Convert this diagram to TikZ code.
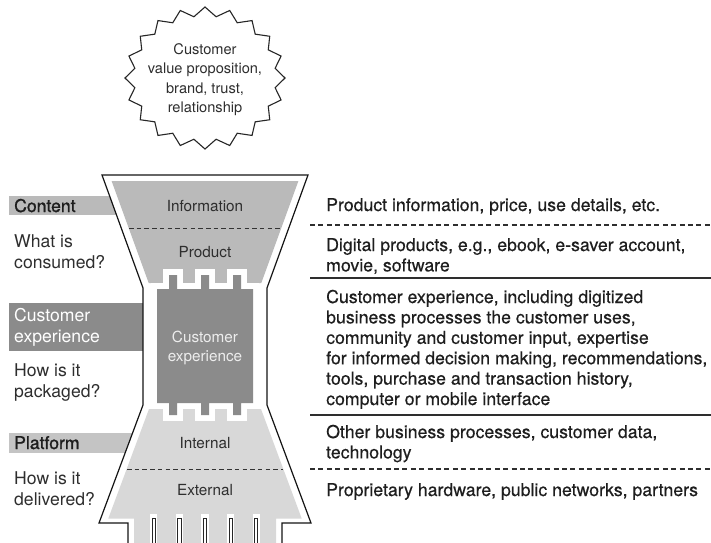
\documentclass[tikz,border=0pt]{standalone}
\usepackage{fontspec}
\setmainfont{TeX Gyre Heros}
\newfontfamily\medfont{TeX Gyre Heros}[FakeBold=0.45]
\newfontfamily\headfont{TeX Gyre Heros}[FakeBold=1.1]
\definecolor{topgray}{HTML}{BABABA}
\definecolor{darkgray}{HTML}{8B8B8B}
\definecolor{lowgray}{HTML}{D8D8D8}
\definecolor{platgray}{HTML}{C4C4C4}
\definecolor{ink}{HTML}{1E1E1E}
\definecolor{softink}{HTML}{2E2E2E}
% multi-line nodes sit on the baseline of their last line
\tikzset{
  rtext/.style={anchor=base west, inner sep=0pt, align=left, text=ink,
    font=\medfont\fontsize{17.7}{20.4}\selectfont},
  ltext/.style={anchor=base west, inner sep=0pt, align=left, text=softink,
    font=\fontsize{17.6}{21}\selectfont},
  htext/.style={ltext, text=ink, font=\headfont\fontsize{17.6}{21}\selectfont},
  itext/.style={anchor=base, inner sep=0pt, align=center, text=softink,
    font=\fontsize{15.3}{19.2}\selectfont},
  btext/.style={anchor=base, inner sep=0pt, align=center, text=softink,
    font=\fontsize{14.6}{19.5}\selectfont},
  frame/.style={draw=black!92, line width=1.2pt, line join=miter},
  sepline/.style={draw=black!82, line width=1.1pt},
  sepdash/.style={sepline, dash pattern=on 5pt off 3.4pt},
  innerdash/.style={draw=black!80, line width=0.9pt, dash pattern=on 4.5pt off 3.2pt},
  pin/.style={draw=black!85, line width=0.9pt, fill=white},
}
\begin{document}
\begin{tikzpicture}[x=1pt,y=-1pt]
\useasboundingbox (0,0) rectangle (711,542);

% ---- starburst with the value proposition ----
\begin{scope}[shift={(205,78)}]
  \draw[draw=black!85, line width=1.1pt, fill=white, line join=miter]
    (0:80pt and 71pt)
    \foreach \i in {1,...,39} {
      -- (\i*9: {ifthenelse(isodd(\i),71,80)*1pt} and {ifthenelse(isodd(\i),62,71)*1pt})
    } -- cycle;
\end{scope}
\node[btext] (burst) at (205,112.5) {Customer\\value proposition,\\brand, trust,\\relationship};

% ---- label bars on the left (cut off by the funnel) ----
\fill[topgray]  (9,196) rectangle (160,215);
\fill[darkgray] (9,303) rectangle (160,351);
\fill[platgray] (9,433) rectangle (160,453);

% ---- funnel body ----
\def\funnelpath{(128,546) -- (128,523) -- (99,523) -- (143,405) -- (143,288)
  -- (102,175) -- (308,175) -- (267,288) -- (267,405) -- (311,523)
  -- (282,523) -- (282,546)}
\fill[white] \funnelpath -- cycle;

% upper (content) layer
\fill[topgray] (111.6,181) -- (298.4,181) -- (261.3,283) -- (148.7,283) -- cycle;
% lower (platform) layer
\fill[lowgray] (149,409) -- (261,409) -- (301.7,518.5) -- (276,518.5)
  -- (276,546) -- (134,546) -- (134,518.5) -- (108.3,518.5) -- cycle;

% dividing lines inside the layers
\coordinate (ua) at (129,228); \coordinate (ub) at (281,228);
\coordinate (la) at (127,469); \coordinate (lb) at (283,469);
\draw[innerdash] (ua) -- (ub);
\draw[innerdash] (la) -- (lb);

% customer experience block with its teeth
\def\blockpath{(157,289) -- (169,289) -- (169,275) -- (177,275) -- (177,289)
  -- (201,289) -- (201,275) -- (209,275) -- (209,289) -- (233,289)
  -- (233,275) -- (241,275) -- (241,289) -- (253,289) -- (253,403)
  -- (241,403) -- (241,415) -- (233,415) -- (233,403) -- (209,403)
  -- (209,415) -- (201,415) -- (201,403) -- (177,403) -- (177,415)
  -- (169,415) -- (169,403) -- (157,403) -- cycle}
\draw[white, line width=12pt, line join=miter] \blockpath;
\fill[darkgray] \blockpath;

% pins at the foot
\foreach \k in {-2,...,2} {
  \fill[white] ({205+25.6*\k-3.6},514) rectangle ({205+25.6*\k+3.6},546);
  \draw[pin] ({205+25.6*\k-1.6},546) -- ({205+25.6*\k-1.6},518.5)
    -- ({205+25.6*\k+1.6},518.5) -- ({205+25.6*\k+1.6},546);
}

\draw[frame] \funnelpath;

% ---- separators on the right ----
\coordinate (s1a) at (310,225); \coordinate (s1b) at (711,225);
\coordinate (s2a) at (310,278); \coordinate (s2b) at (711,278);
\coordinate (s3a) at (310,415); \coordinate (s3b) at (711,415);
\coordinate (s4a) at (310,469); \coordinate (s4b) at (711,469);
\draw[sepdash] (s1a) -- (s1b);
\draw[sepline] (s2a) -- (s2b);
\draw[sepline] (s3a) -- (s3b);
\draw[sepdash] (s4a) -- (s4b);

% ---- labels inside the funnel ----
\node[itext] (info) at (205,211) {Information};
\node[itext] (prod) at (205,257) {Product};
\node[itext, text=white!93!black] (cx) at (205,361.2) {Customer\\experience};
\node[itext] (intl) at (205,448) {Internal};
\node[itext] (extl) at (205,495) {External};

% ---- left-hand labels ----
\node[htext] (content) at (14,212) {Content};
\node[ltext] (consumed) at (14,268) {What is\\consumed?};
\node[ltext, text=white] (cxbar) at (14,342) {Customer\\experience};
\node[ltext] (packaged) at (14,397) {How is it\\packaged?};
\node[htext] (platform) at (14,449) {Platform};
\node[ltext] (delivered) at (14,505) {How is it\\delivered?};

% ---- right-hand descriptions ----
\node[rtext] (d1) at (326,211) {Product information, price, use details, etc.};
\node[rtext] (d2) at (326,271.4) {Digital products, e.g., ebook, e-saver account,\\movie, software};
\node[rtext] (d3) at (326,405) {Customer experience, including digitized\\business processes the customer uses,\\community and customer input, expertise\\for informed decision making, recommendations,\\tools, purchase and transaction history,\\computer or mobile interface};
\node[rtext] (d4) at (326,458.4) {Other business processes, customer data,\\technology};
\node[rtext] (d5) at (326,496) {Proprietary hardware, public networks, partners};
\end{tikzpicture}
\end{document}
